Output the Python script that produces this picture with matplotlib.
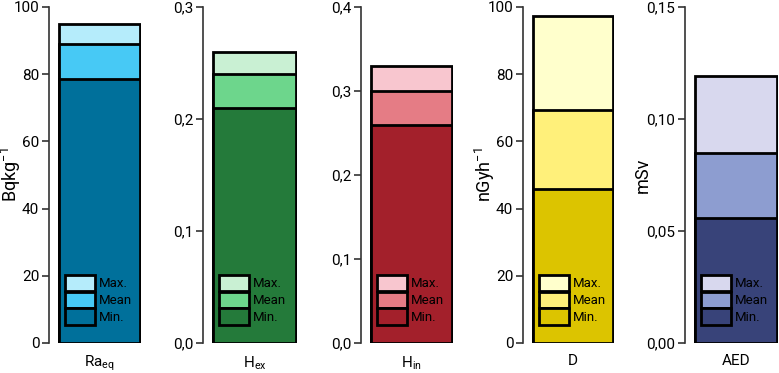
import matplotlib
matplotlib.use("Agg")
import matplotlib.pyplot as plt
from matplotlib.patches import Patch
from matplotlib.ticker import FuncFormatter

# ---------------------------------------------------------------------------
# DATA
# ---------------------------------------------------------------------------
quantities = ["Ra$_{eq}$", "H$_{ex}$", "H$_{in}$", "D", "AED"]
max_vals   = [95.0, 0.26, 0.33, 97.3, 0.119]
mean_vals  = [89.0, 0.24, 0.30, 69.3, 0.085]
min_vals   = [78.5, 0.21, 0.26, 45.9, 0.056]
y_tops     = [100, 0.3, 0.4, 100, 0.15]
y_steps    = [20, 0.1, 0.1, 20, 0.05]
y_decimals = [0, 1, 1, 0, 2]
y_labels   = ["Bqkg$^{-1}$", None, None, "nGyh$^{-1}$", "mSv"]
legend_labels = ["Max.", "Mean", "Min."]

COLORS = [
    ("#b5ecfb", "#47c9f5", "#00709b"),
    ("#c9f0d3", "#6dd68c", "#247a3a"),
    ("#f8c6cf", "#e57c85", "#a3202b"),
    ("#ffffcc", "#fff07a", "#dcc400"),
    ("#d8d8ee", "#8d9dd0", "#384379"),
]

# pixel layout (left spine x, right edge x) of each panel
PANELS = [(49, 141), (203, 297), (361, 453), (523, 614), (685, 778)]
YLABEL_X = [-0.28, None, None, -0.29, -0.36]

W, H = 779, 373

plt.rcParams["font.family"] = ["Roboto", "DejaVu Sans"]
plt.rcParams["mathtext.default"] = "regular"

fig = plt.figure(figsize=(W / 100, H / 100), dpi=100)

for i, (x0, x1) in enumerate(PANELS):
    ax = fig.add_axes([x0 / W, 30 / H, (x1 - x0) / W, 336 / H])
    c_max, c_mean, c_min = COLORS[i]
    for val, col in ((max_vals[i], c_max), (mean_vals[i], c_mean), (min_vals[i], c_min)):
        ax.bar(0, val, width=1.0, color=col, edgecolor="black", linewidth=2, zorder=2)

    bar_px = (x1 - x0) - 11
    gap = 10 / bar_px
    ax.set_xlim(-0.5 - gap, 0.5 + 1 / bar_px)
    ax.set_ylim(0, y_tops[i])

    n = int(round(y_tops[i] / y_steps[i]))
    ax.set_yticks([k * y_steps[i] for k in range(n + 1)])
    d = y_decimals[i]
    ax.yaxis.set_major_formatter(
        FuncFormatter(lambda v, p, d=d: f"{v:.{d}f}".replace(".", ","))
    )
    ax.set_xticks([0])
    ax.set_xticklabels([quantities[i]], fontsize=11)
    ax.tick_params(axis="x", length=0, pad=8)
    ax.tick_params(axis="y", length=5, width=1.2, labelsize=11, pad=2, color="#333333")

    for side in ("top", "right", "bottom"):
        ax.spines[side].set_visible(False)
    ax.spines["left"].set_color("#333333")
    ax.spines["left"].set_linewidth(1.2)
    ax.set_facecolor("none")

    if y_labels[i]:
        ax.set_ylabel(y_labels[i], fontsize=13)
        ax.yaxis.set_label_coords(YLABEL_X[i], 0.5)

    handles = [Patch(facecolor=c, edgecolor="black", linewidth=2) for c in (c_max, c_mean, c_min)]
    leg_x = 16 / (x1 - x0)
    ax.legend(handles, legend_labels, loc="lower left", bbox_to_anchor=(leg_x, 0.055),
              frameon=False, fontsize=9.5, handlelength=2.3, handleheight=1.5,
              labelspacing=0.05, handletextpad=0.3, borderaxespad=0, borderpad=0)

fig.savefig("out.png", dpi=100)
